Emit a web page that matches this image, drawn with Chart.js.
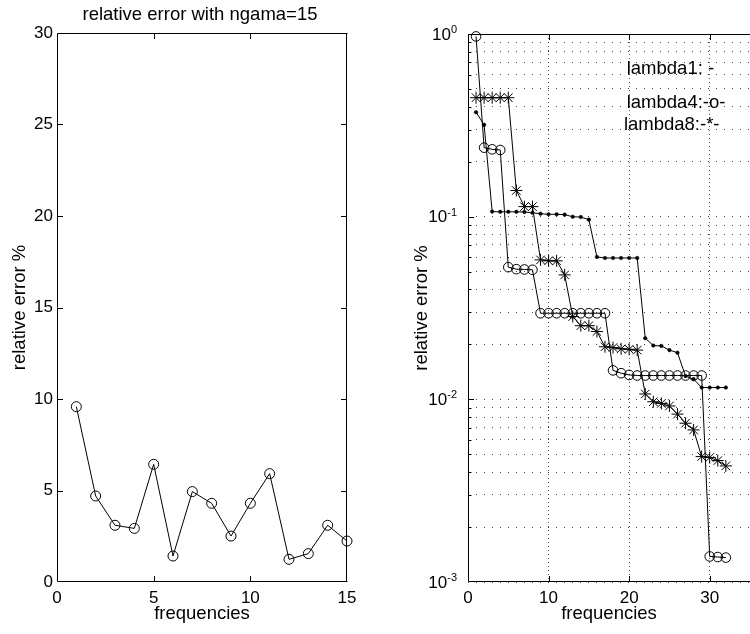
<!DOCTYPE html>
<html><head><meta charset="utf-8">
<script src="https://cdn.jsdelivr.net/npm/chart.js@4/dist/chart.umd.min.js"></script>
<style>
html,body{margin:0;padding:0;background:#fff;}
#wrap{position:relative;width:750px;height:634px;overflow:hidden;background:#fff;}
canvas{position:absolute;top:0;}
#c1{left:0;}
#c2{left:375px;}
</style></head><body>
<div id="wrap"><canvas id="c1" width="375" height="634"></canvas><canvas id="c2" width="375" height="634"></canvas></div>
<script>
// ---------- data ----------
const leftTitle = 'relative error with ngama=15';
const xLabel = 'frequencies';
const yLabel = 'relative error %';
const leftFreq = [1,2,3,4,5,6,7,8,9,10,11,12,13,14,15];
const leftError = [9.58,4.7,3.1,2.93,6.43,1.42,4.94,4.3,2.51,4.3,5.92,1.24,1.55,3.1,2.24];
const leftXTicks = [0,5,10,15];
const leftYTicks = [0,5,10,15,20,25,30];

const rightFreq = [1,2,3,4,5,6,7,8,9,10,11,12,13,14,15,16,17,18,19,20,21,22,23,24,25,26,27,28,29,30,31,32];
const lambda1 = [0.373,0.318,0.1066,0.1063,0.1063,0.1063,0.106,0.105,0.1038,0.103,0.103,0.1026,0.0999,0.0995,0.0963,0.0602,
                 0.0594,0.0594,0.0594,0.0594,0.0594,0.0216,0.0197,0.0196,0.0186,0.018,0.0134,0.0129,0.0116,0.0116,0.0116,0.0116];
const lambda4 = [0.97,0.2386,0.2337,0.2318,0.0529,0.0516,0.0514,0.0512,0.0296,0.0296,0.0296,0.0296,0.0296,0.0296,0.0296,0.0296,
                 0.0296,0.0144,0.0139,0.0136,0.0135,0.0135,0.0135,0.0135,0.0135,0.0135,0.0135,0.0135,0.0135,0.00138,0.00137,0.00136];
const lambda8 = [0.448,0.448,0.448,0.448,0.448,0.139,0.1135,0.1135,0.058,0.0573,0.0573,0.048,0.0284,0.0253,0.0253,0.0235,
                 0.0194,0.0192,0.0189,0.0188,0.0186,0.0107,0.0097,0.0095,0.0092,0.0083,0.0074,0.0068,0.00486,0.0048,0.00462,0.00432];
const rightXTicks = [0,10,20,30];
const rightDecades = [1,0.1,0.01,0.001];
const rightDecadeExp = ['0','-1','-2','-3'];
const annTexts = ['lambda1: -','lambda4:-o-','lambda8:-*-'];
const annX = [19.7,19.7,19.35];
const annY = [0.604,0.392,0.298];

// ---------- styling ----------
const FAM = '"Liberation Sans", Arial, Helvetica, sans-serif';
const tickFont = {family: FAM, size: 17};
const labFont = {family: FAM, size: 18.5};
Chart.defaults.color = '#000';

function pts(xs, ys){ return xs.map((x,i)=>({x:x, y:ys[i]})); }

const framePlugin = {
  id: 'frame',
  afterDraw(chart, args, o){
    const {ctx, chartArea:a, scales} = chart;
    ctx.save();
    ctx.strokeStyle = '#000'; ctx.lineWidth = 1;
    const L = Math.round(a.left)+0.5, R = Math.round(a.right)-0.5, T = Math.round(a.top)+0.5, B = Math.round(a.bottom)-0.5;
    ctx.beginPath();
    ctx.moveTo(L,T); ctx.lineTo(L,B); ctx.lineTo(R+1,B);
    ctx.moveTo(L,T); ctx.lineTo(R+1,T);
    if (o.right) { ctx.moveTo(R,T); ctx.lineTo(R,B); }
    const len = 5.5;
    (o.xTicks||[]).forEach(v=>{
      const p = Math.round(scales.x.getPixelForValue(v))+0.5;
      ctx.moveTo(p,B); ctx.lineTo(p,B-len);
      ctx.moveTo(p,T); ctx.lineTo(p,T+len);
    });
    (o.yTicks||[]).forEach(v=>{
      const p = Math.round(scales.y.getPixelForValue(v))+0.5;
      ctx.moveTo(L,p); ctx.lineTo(L+len,p);
      if (o.right) { ctx.moveTo(R,p); ctx.lineTo(R-len,p); }
    });
    (o.yMinor||[]).forEach(v=>{
      const p = Math.round(scales.y.getPixelForValue(v))+0.5;
      ctx.moveTo(L,p); ctx.lineTo(L+3,p);
      if (o.right) { ctx.moveTo(R,p); ctx.lineTo(R-3,p); }
    });
    ctx.stroke();
    ctx.restore();
  }
};

// ---------- left chart ----------
new Chart(document.getElementById('c1'), {
  type: 'line',
  data: { datasets: [{
    data: pts(leftFreq, leftError),
    borderColor: '#000', borderWidth: 1, backgroundColor: 'rgba(0,0,0,0)',
    pointStyle: 'circle', pointRadius: 5, pointBorderWidth: 1, pointBorderColor: '#000', pointBackgroundColor: 'rgba(0,0,0,0)',
    tension: 0, clip: false
  }]},
  options: {
    responsive: false, animation: false, devicePixelRatio: 1,
    layout: {autoPadding: false, padding: {top: 33, right: 28, left: 0, bottom: 0}},
    plugins: {legend: {display: false}, tooltip: {enabled: false},
      frame: {right: true, xTicks: leftXTicks.slice(1,-1), yTicks: leftYTicks.slice(1,-1)}},
    scales: {
      x: {type: 'linear', min: 0, max: 15,
        afterBuildTicks: s => { s.ticks = leftXTicks.map(v=>({value:v})); },
        afterFit: s => { s.height = 52; s.paddingLeft = 0; s.paddingRight = 0; },
        grid: {display: false, drawTicks: false, tickLength: 0}, border: {display: false},
        ticks: {font: tickFont, color: '#000', padding: 6, maxRotation: 0, autoSkip: false},
        title: {display: true, text: xLabel, font: labFont, color: '#000', padding: {top: 0, bottom: 9}}},
      y: {type: 'linear', min: 0, max: 30,
        afterBuildTicks: s => { s.ticks = leftYTicks.map(v=>({value:v})); },
        afterFit: s => { s.width = 57; s.paddingTop = 0; s.paddingBottom = 0; },
        grid: {display: false, drawTicks: false, tickLength: 0}, border: {display: false},
        ticks: {font: tickFont, color: '#000', padding: 4, autoSkip: false},
        title: {display: true, text: yLabel, font: labFont, color: '#000', padding: {top: 9, bottom: 0}}}
    }
  },
  plugins: [framePlugin, {
    id: 'ttl',
    afterDraw(chart){
      const {ctx, chartArea:a} = chart;
      ctx.save();
      ctx.font = `${labFont.size}px ${FAM}`;
      ctx.fillStyle = '#000'; ctx.textAlign = 'center'; ctx.textBaseline = 'alphabetic';
      ctx.fillText(leftTitle, (a.left+a.right)/2 - 2, 20);
      ctx.restore();
    }
  }]
});

// ---------- right chart ----------
const minorVals = [];
[0.001,0.01,0.1].forEach(d=>{ for (let k=1;k<=9;k++) minorVals.push(+(k*d).toPrecision(3)); });
minorVals.push(1);
const minorOnly = minorVals.filter(v=>rightDecades.indexOf(v)<0);

new Chart(document.getElementById('c2'), {
  type: 'line',
  data: { datasets: [
    {label: 'lambda1', data: pts(rightFreq, lambda1), borderColor: '#000', borderWidth: 1,
     pointStyle: 'circle', pointRadius: 1.8, pointBackgroundColor: '#000', pointBorderColor: '#000', pointBorderWidth: 0.5, tension: 0, clip: false},
    {label: 'lambda4', data: pts(rightFreq, lambda4), borderColor: '#000', borderWidth: 1,
     pointStyle: 'circle', pointRadius: 4.8, pointBackgroundColor: 'rgba(0,0,0,0)', pointBorderColor: '#000', pointBorderWidth: 1, tension: 0, clip: false},
    {label: 'lambda8', data: pts(rightFreq, lambda8), borderColor: '#000', borderWidth: 1,
     pointStyle: 'star', pointRadius: 6, pointBackgroundColor: 'rgba(0,0,0,0)', pointBorderColor: '#000', pointBorderWidth: 1, tension: 0, clip: false}
  ]},
  options: {
    responsive: false, animation: false, devicePixelRatio: 1,
    layout: {autoPadding: false, padding: {top: 34, right: 0, left: 0, bottom: 0}},
    plugins: {legend: {display: false}, tooltip: {enabled: false},
      frame: {right: false, xTicks: rightXTicks.slice(1), yTicks: rightDecades.slice(1,-1), yMinor: minorOnly}},
    scales: {
      x: {type: 'linear', min: 0, max: 35,
        afterBuildTicks: s => { s.ticks = rightXTicks.map(v=>({value:v})); },
        afterFit: s => { s.height = 52; s.paddingLeft = 0; s.paddingRight = 0; },
        grid: {display: true, color: '#555', lineWidth: 1, drawTicks: false, tickLength: 0},
        border: {display: false, dash: [1,3]},
        ticks: {font: tickFont, color: '#000', padding: 6, maxRotation: 0, autoSkip: false},
        title: {display: true, text: xLabel, font: labFont, color: '#000', padding: {top: 0, bottom: 9}}},
      y: {type: 'logarithmic', min: 0.001, max: 1,
        afterBuildTicks: s => { s.ticks = minorVals.map(v=>({value:v})); },
        afterFit: s => { s.width = 93; s.paddingTop = 0; s.paddingBottom = 0; },
        grid: {display: true, color: '#444', lineWidth: 1, drawTicks: false, tickLength: 0},
        border: {display: false, dash: [1,7]},
        ticks: {display: false},
        title: {display: true, text: yLabel, font: labFont, color: '#000', padding: {top: 36, bottom: 0}}}
    }
  },
  plugins: [framePlugin, {
    id: 'decLabels',
    afterDraw(chart){
      const {ctx, chartArea:a, scales} = chart;
      ctx.save();
      ctx.fillStyle = '#000';
      rightDecades.forEach((v,i)=>{
        const y = scales.y.getPixelForValue(v);
        ctx.font = `11px ${FAM}`;
        const ew = ctx.measureText(rightDecadeExp[i]).width;
        const xr = a.left - 11 - ew;
        ctx.textAlign = 'left'; ctx.textBaseline = 'alphabetic';
        ctx.fillText(rightDecadeExp[i], xr, y - 1);
        ctx.font = `${tickFont.size}px ${FAM}`;
        ctx.textAlign = 'right'; ctx.textBaseline = 'middle';
        ctx.fillText('10', xr, y + 1);
      });
      ctx.restore();
    },
    afterDatasetsDraw(chart){
      const {ctx, scales} = chart;
      ctx.save();
      ctx.fillStyle = '#000';
      ctx.font = `${labFont.size}px ${FAM}`;
      ctx.textAlign = 'left'; ctx.textBaseline = 'alphabetic';
      annTexts.forEach((t,i)=>{
        ctx.fillText(t, scales.x.getPixelForValue(annX[i]), scales.y.getPixelForValue(annY[i]));
      });
      ctx.restore();
    }
  }]
});
</script>
</body></html>
